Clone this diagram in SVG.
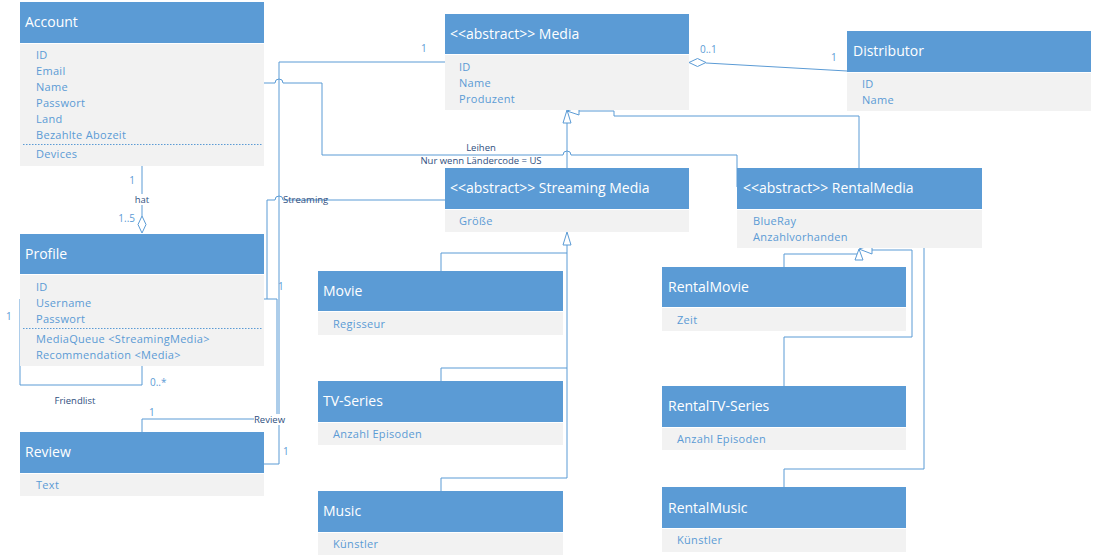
<svg xmlns="http://www.w3.org/2000/svg" width="1093" height="559" viewBox="0 0 1093 559">
<style>
.hd{fill:#5b9bd5}
.bd{fill:#f2f2f2}
.ht{font-family:"Open Sans","Noto Sans",sans-serif;font-size:14px;fill:#ffffff}
.at{font-family:"Open Sans","Noto Sans",sans-serif;font-size:11px;fill:#5b9bd5;letter-spacing:0.3px}
.dash{stroke:#5b9bd5;stroke-width:1;stroke-dasharray:1.5,1.5}
.cn{fill:none;stroke:#5b9bd5;stroke-width:1}
.lb{font-family:"Open Sans","Noto Sans",sans-serif;font-size:9.5px;fill:#2f4f80}
.mu{font-family:"Open Sans","Noto Sans",sans-serif;font-size:10px;fill:#5b9bd5}
.tri{fill:#ffffff;stroke:#5b9bd5;stroke-width:1}
</style>
<rect width="1093" height="559" fill="#ffffff"/>

<g id="connectors">
  <!-- Account - Profile (hat) -->
  <line class="cn" x1="142" y1="166" x2="142" y2="216"/>
  <polygon class="tri" points="142,216 146,224.5 142,233 138,224.5"/>
  <!-- Friendlist self loop -->
  <path class="cn" d="M20,299 V385 H142 V366"/>
  <!-- Media - Review -->
  <path class="cn" d="M445,62 H279 V464 H264"/>
  <!-- Account - RentalMedia (Leihen) -->
  <path class="cn" d="M264,83 H275 A4,4 0 0 1 283,83 H322 V155 H563 A4,4 0 0 1 571,155 H737 V187"/>
  <!-- Streaming -->
  <path class="cn" d="M445,200 H283 A4,4 0 0 0 275,200 H267 V299 H264"/>
  <!-- Review -->
  <path class="cn" d="M142,432 V419 H277 V299 H267"/>
  <!-- Media - Distributor aggregation -->
  <line class="cn" x1="706" y1="63" x2="847" y2="71"/>
  <polygon class="tri" points="689,62.5 697.5,58.5 706,62.5 697.5,66.5"/>
  <!-- Streaming Media -> Media -->
  <line class="cn" x1="567" y1="168" x2="567" y2="123"/>
  <polygon class="tri" points="567,110 571,123 563,123"/>
  <!-- RentalMedia -> Media -->
  <path class="cn" d="M859,168 V116 H614 V111 H579"/>
  <polygon class="tri" points="567,111 579,107 579,115"/>
  <!-- Movie, TV-Series, Music -> Streaming Media -->
  <path class="cn" d="M441,271 V253 H567"/>
  <path class="cn" d="M441,381 V368 H567"/>
  <path class="cn" d="M441,491 V478 H567 V245"/>
  <polygon class="tri" points="567,232 571,245 563,245"/>
  <!-- Rental subclasses -> RentalMedia -->
  <path class="cn" d="M784,267 V254 H857"/>
  <path class="cn" d="M784,386 V337 H912 V250 H872"/>
  <path class="cn" d="M784,487 V469 H924 V245 H863"/>
  <polygon class="tri" points="855,237 863,237 859,248"/>
  <polygon class="tri" points="859,249 863,260 855,260"/>
  <polygon class="tri" points="859,249 872,245 872,254"/>

  <!-- labels -->
  <text class="mu" x="135" y="184" text-anchor="end">1</text>
  <rect x="134" y="194" width="16" height="11" fill="#ffffff"/>
  <text class="lb" x="142" y="203" text-anchor="middle">hat</text>
  <text class="mu" x="135" y="222" text-anchor="end">1..5</text>
  <text class="mu" x="6" y="320">1</text>
  <text class="mu" x="150" y="386">0..*</text>
  <text class="lb" x="75" y="404" text-anchor="middle">Friendlist</text>
  <text class="mu" x="421" y="52">1</text>
  <text class="mu" x="283" y="455">1</text>
  <text class="lb" x="481" y="151" text-anchor="middle">Leihen</text>
  <text class="lb" x="481" y="164" text-anchor="middle">Nur wenn Ländercode = US</text>
  <text class="lb" x="283" y="203">Streaming</text>
  <rect x="254" y="414" width="32" height="11" fill="#ffffff"/>
  <text class="lb" x="254" y="423">Review</text>
  <text class="mu" x="149" y="416">1</text>
  <text class="mu" x="278" y="290">1</text>
  <text class="mu" x="700" y="53">0..1</text>
  <text class="mu" x="831" y="61">1</text>
</g>

<g id="account">
  <rect class="hd" x="20" y="2" width="244" height="41"/>
  <rect class="bd" x="20" y="44" width="244" height="122"/>
  <text class="ht" x="25" y="27">Account</text>
  <text class="at" x="36" y="59">ID</text>
  <text class="at" x="36" y="75">Email</text>
  <text class="at" x="36" y="91">Name</text>
  <text class="at" x="36" y="107">Passwort</text>
  <text class="at" x="36" y="123">Land</text>
  <text class="at" x="36" y="139">Bezahlte Abozeit</text>
  <line class="dash" x1="23" y1="144.5" x2="262" y2="144.5"/>
  <text class="at" x="36" y="158">Devices</text>
</g>

<g id="profile">
  <rect class="hd" x="20" y="234" width="244" height="40"/>
  <rect class="bd" x="20" y="275" width="244" height="91"/>
  <text class="ht" x="25" y="259">Profile</text>
  <text class="at" x="36" y="291">ID</text>
  <text class="at" x="36" y="307">Username</text>
  <text class="at" x="36" y="323">Passwort</text>
  <line class="dash" x1="23" y1="328.5" x2="262" y2="328.5"/>
  <text class="at" x="36" y="343">MediaQueue &lt;StreamingMedia&gt;</text>
  <text class="at" x="36" y="359">Recommendation &lt;Media&gt;</text>
</g>

<g id="review">
  <rect class="hd" x="20" y="432" width="244" height="41"/>
  <rect class="bd" x="20" y="474" width="244" height="22"/>
  <text class="ht" x="25" y="457">Review</text>
  <text class="at" x="36" y="489">Text</text>
</g>

<g id="media">
  <rect class="hd" x="445" y="14" width="244" height="40"/>
  <rect class="bd" x="445" y="55" width="244" height="55"/>
  <text class="ht" x="450" y="39">&lt;&lt;abstract&gt;&gt; Media</text>
  <text class="at" x="459" y="71">ID</text>
  <text class="at" x="459" y="87">Name</text>
  <text class="at" x="459" y="103">Produzent</text>
</g>

<g id="distributor">
  <rect class="hd" x="847" y="31" width="244" height="41"/>
  <rect class="bd" x="847" y="73" width="244" height="38"/>
  <text class="ht" x="853" y="56">Distributor</text>
  <text class="at" x="862" y="88">ID</text>
  <text class="at" x="862" y="104">Name</text>
</g>

<g id="streamingmedia">
  <rect class="hd" x="445" y="168" width="244" height="41"/>
  <rect class="bd" x="445" y="210" width="244" height="22"/>
  <text class="ht" x="450" y="193">&lt;&lt;abstract&gt;&gt; Streaming Media</text>
  <text class="at" x="459" y="225">Größe</text>
</g>

<g id="rentalmedia">
  <rect class="hd" x="737" y="168" width="245" height="41"/>
  <rect class="bd" x="737" y="210" width="245" height="38"/>
  <text class="ht" x="743" y="193">&lt;&lt;abstract&gt;&gt; RentalMedia</text>
  <text class="at" x="753" y="225">BlueRay</text>
  <text class="at" x="753" y="241">Anzahlvorhanden</text>
</g>

<g id="movie">
  <rect class="hd" x="318" y="271" width="245" height="40"/>
  <rect class="bd" x="318" y="312" width="245" height="23"/>
  <text class="ht" x="323" y="296">Movie</text>
  <text class="at" x="333" y="328">Regisseur</text>
</g>

<g id="tvseries">
  <rect class="hd" x="318" y="381" width="245" height="41"/>
  <rect class="bd" x="318" y="423" width="245" height="22"/>
  <text class="ht" x="323" y="406">TV-Series</text>
  <text class="at" x="333" y="438">Anzahl Episoden</text>
</g>

<g id="music">
  <rect class="hd" x="318" y="491" width="245" height="41"/>
  <rect class="bd" x="318" y="533" width="245" height="22"/>
  <text class="ht" x="323" y="516">Music</text>
  <text class="at" x="333" y="548">Künstler</text>
</g>

<g id="rentalmovie">
  <rect class="hd" x="662" y="267" width="244" height="40"/>
  <rect class="bd" x="662" y="308" width="244" height="23"/>
  <text class="ht" x="668" y="292">RentalMovie</text>
  <text class="at" x="677" y="324">Zeit</text>
</g>

<g id="rentaltvseries">
  <rect class="hd" x="662" y="386" width="244" height="41"/>
  <rect class="bd" x="662" y="428" width="244" height="22"/>
  <text class="ht" x="668" y="411">RentalTV-Series</text>
  <text class="at" x="677" y="443">Anzahl Episoden</text>
</g>

<g id="rentalmusic">
  <rect class="hd" x="662" y="487" width="244" height="41"/>
  <rect class="bd" x="662" y="529" width="244" height="23"/>
  <text class="ht" x="668" y="513">RentalMusic</text>
  <text class="at" x="677" y="544">Künstler</text>
</g>
</svg>
